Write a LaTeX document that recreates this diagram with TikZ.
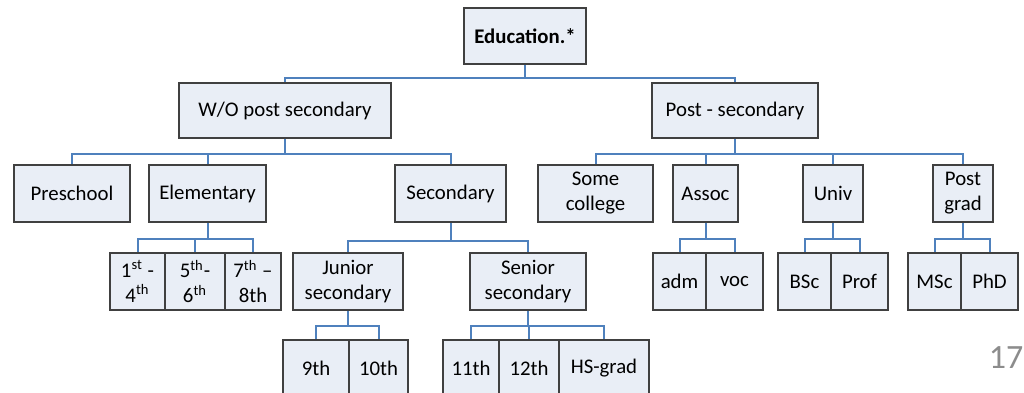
\documentclass[tikz,border=0pt]{standalone}
\usepackage{fontspec}
\setmainfont{Carlito}
\usetikzlibrary{calc}
\definecolor{boxfill}{RGB}{233,238,246}
\definecolor{boxline}{RGB}{64,64,64}
\definecolor{linkblue}{RGB}{79,129,189}
\definecolor{pagegray}{RGB}{140,140,140}
\begin{document}
\begin{tikzpicture}[x=0.5pt,y=-0.5pt,
        box/.style={rectangle,draw=boxline,line width=1pt,fill=boxfill,inner sep=0pt,
                    align=center,font=\fontsize{10.4}{12.5}\selectfont},
        link/.style={draw=linkblue,line width=1pt},
        elbow/.style={to path={-- ++(0,#1) -| (\tikztotarget)}}]
        \useasboundingbox (0,0) rectangle (1024,392);
        % top
        \node[box,minimum width=61pt,minimum height=28pt] (edu) at (525,36) {\bfseries Education.*};
        \node[box,minimum width=106pt,minimum height=27.5pt] (wo) at (285,110.5) {W/O post secondary};
        \node[box,minimum width=83pt,minimum height=27.5pt] (post) at (735,110.5) {Post - secondary};
        % second row
        \node[box,minimum width=58pt,minimum height=28.5pt] (pre) at (72,193.5) {Preschool};
        \node[box,minimum width=58.5pt,minimum height=28.5pt] (elem) at (207.5,193.5) {Elementary};
        \node[box,minimum width=55.5pt,minimum height=28.5pt] (sec) at (450.5,193.5) {Secondary};
        \node[box,minimum width=57.5pt,minimum height=28.5pt] (some) at (595.5,193.5) {Some\\college};
        \node[box,minimum width=32.5pt,minimum height=28.5pt] (assoc) at (705.5,193.5) {Assoc};
        \node[box,minimum width=30pt,minimum height=28.5pt] (univ) at (833,193.5) {Univ};
        \node[box,minimum width=30pt,minimum height=28.5pt] (pgrad) at (963,193.5) {Post\\grad};
        % third row
        \node[box,minimum width=27.5pt,minimum height=28.5pt] (g1) at (137.5,281.5) {1\textsuperscript{st} -\\4\textsuperscript{th}};
        \node[box,minimum width=30pt,minimum height=28.5pt] (g5) at (195,281.5) {5\textsuperscript{th}-\\6\textsuperscript{th}};
        \node[box,minimum width=28pt,minimum height=28.5pt] (g7) at (253,281.5) {7\textsuperscript{th} --\\8th};
        \node[box,minimum width=55pt,minimum height=28.5pt] (jun) at (348,281.5) {Junior\\secondary};
        \node[box,minimum width=58pt,minimum height=28.5pt] (sen) at (528,281.5) {Senior\\secondary};
        \node[box,minimum width=26.5pt,minimum height=28.5pt] (adm) at (679.5,281.5) {adm};
        \node[box,minimum width=28.5pt,minimum height=28.5pt] (voc) at (734.5,281.5) {voc};
        \node[box,minimum width=26.5pt,minimum height=28.5pt] (bsc) at (804.5,281.5) {BSc};
        \node[box,minimum width=28.5pt,minimum height=28.5pt] (prof) at (859.5,281.5) {Prof};
        \node[box,minimum width=26.5pt,minimum height=28.5pt] (msc) at (934.5,281.5) {MSc};
        \node[box,minimum width=28.5pt,minimum height=28.5pt] (phd) at (989.5,281.5) {PhD};
        % bottom row
        \node[box,minimum width=33pt,minimum height=28.5pt] (n9) at (316,368.5) {9th};
        \node[box,minimum width=29.5pt,minimum height=28.5pt] (n10) at (378.5,368.5) {10th};
        \node[box,minimum width=28pt,minimum height=28.5pt] (n11) at (471,368.5) {11th};
        \node[box,minimum width=30pt,minimum height=28.5pt] (n12) at (529,368.5) {12th};
        \node[box,minimum width=45pt,minimum height=28.5pt] (hs) at (604,368.5) {HS-grad};
        % page number
        \node[text=pagegray,font=\fontsize{17}{20}\selectfont] (page) at (1006,358) {17};
        \path[link]
          (edu.south) edge[elbow=13] (wo.north)
          (edu.south) edge[elbow=13] (post.north)
          (wo.south) edge[elbow=15] (pre.north)
          (wo.south) edge[elbow=15] (elem.north)
          (wo.south) edge[elbow=15] (sec.north)
          (post.south) edge[elbow=15] (some.north)
          (post.south) edge[elbow=15] (assoc.north)
          (post.south) edge[elbow=15] (univ.north)
          (post.south) edge[elbow=15] (pgrad.north)
          (elem.south) edge[elbow=16] (g1.north)
          (elem.south) edge[elbow=16] (g5.north)
          (elem.south) edge[elbow=16] (g7.north)
          (sec.south) edge[elbow=18] (jun.north)
          (sec.south) edge[elbow=18] (sen.north)
          (jun.south) edge[elbow=15] (n9.north)
          (jun.south) edge[elbow=15] (n10.north)
          (sen.south) edge[elbow=15] (n11.north)
          (sen.south) edge[elbow=15] (n12.north)
          (sen.south) edge[elbow=15] (hs.north)
          (assoc.south) edge[elbow=16] (adm.north)
          (assoc.south) edge[elbow=16] (voc.north)
          (univ.south) edge[elbow=16] (bsc.north)
          (univ.south) edge[elbow=16] (prof.north)
          (pgrad.south) edge[elbow=16] (msc.north)
          (pgrad.south) edge[elbow=16] (phd.north)
          ;
\end{tikzpicture}
\end{document}
